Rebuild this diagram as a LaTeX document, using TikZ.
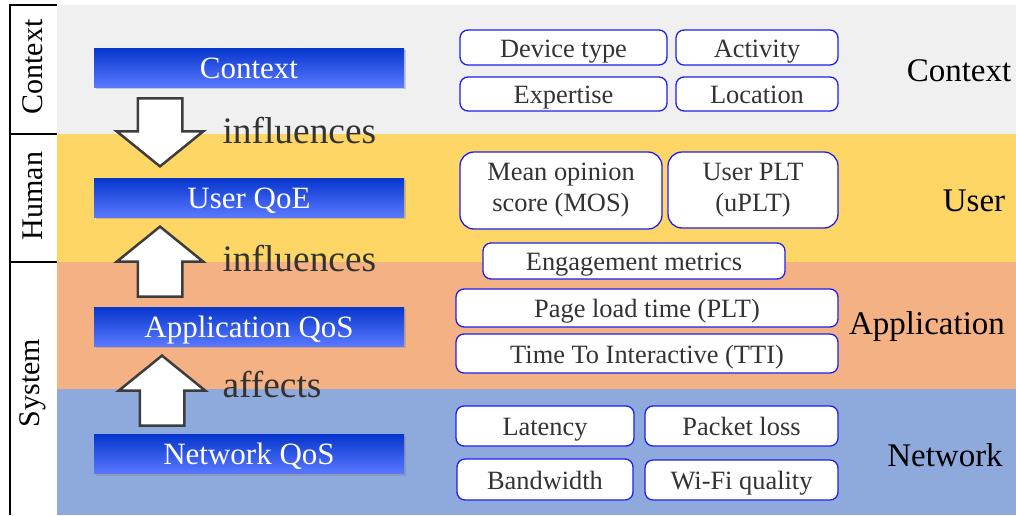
\documentclass[tikz,border=0pt]{standalone}
\usepackage{fontspec}
\setmainfont{Liberation Serif}
\usetikzlibrary{shapes.arrows,shadows}
\definecolor{ctxband}{HTML}{F0F0F0}
\definecolor{userband}{HTML}{FDD666}
\definecolor{appband}{HTML}{F4B183}
\definecolor{netband}{HTML}{8EA9DB}
\definecolor{bartop}{HTML}{0636CC}
\definecolor{barbot}{HTML}{5A78FF}
\definecolor{boxline}{HTML}{1E1EF0}
\definecolor{ink}{HTML}{333333}

\begin{document}
\begin{tikzpicture}[x=1pt,y=-1pt,
    bar/.style={minimum width=310pt,minimum height=39pt,inner sep=0pt,
        top color=bartop,bottom color=barbot,text=white,
        text height=25pt,text depth=4pt,
        font=\fontsize{31}{31}\selectfont,
        drop shadow={shadow xshift=2pt,shadow yshift=-2pt,opacity=.35}},
    metric/.style={draw=boxline,line width=1.3pt,fill=white,rounded corners=8pt,
        inner sep=0pt,text=ink,font=\fontsize{26.4}{31}\selectfont,align=center},
    oneline/.style={text height=20pt,text depth=1pt},
    fat/.style={single arrow,draw=ink!95,line width=2.5pt,fill=white,
        inner xsep=0pt,inner ysep=21pt,single arrow head extend=21pt,
        single arrow tip angle=102,anchor=tip},
    verb/.style={text=ink,font=\fontsize{37.4}{37.4}\selectfont,anchor=west},
    layer/.style={font=\fontsize{33}{33}\selectfont},
    side/.style={rotate=90,font=\fontsize{30}{30}\selectfont}]
    \useasboundingbox (0,0) rectangle (1016,515);

    % bands
    \fill[ctxband] (57,5) rectangle (1016,134);
    \fill[userband] (57,134) rectangle (1016,262);
    \fill[appband] (57,262) rectangle (1016,389);
    \fill[netband] (57,389) rectangle (1016,515);
    \draw[line width=1.5pt] (57,5) -- (10,5) -- (10,515);
    \draw[line width=1.5pt] (10,134) -- (57,134) (10,262) -- (57,262);
    \node[side] (sctx) at (33,67) {Context};
    \node[side] (shum) at (33,196) {Human};
    \node[side] (ssys) at (33,383) {System};

    % left stack
    \node[bar] (ctx) at (249,67.5) {Context};
    \node[bar] (qoe) at (249,197.5) {User QoE};
    \node[bar] (aqos) at (249,326.5) {Application QoS};
    \node[bar] (nqos) at (249,454) {Network QoS};

    \node[fat,minimum height=68pt,rotate=-90] (a1) at (160,168) {};
    \node[fat,minimum height=70pt,rotate=90] (a2) at (160,225) {};
    \node[fat,minimum height=70pt,rotate=90] (a3) at (162,354) {};
    \node[verb] (v1) at (219,131) {influences};
    \node[verb] (v2) at (219,259) {influences};
    \node[verb] (v3) at (219,385) {affects};

    % metrics
    \node[metric,oneline,minimum width=207pt,minimum height=35pt] (dev) at (563.5,47.5) {Device type};
    \node[metric,oneline,minimum width=162pt,minimum height=35pt] (act) at (757,47.5) {Activity};
    \node[metric,oneline,minimum width=207pt,minimum height=34pt] (exp) at (563.5,94) {Expertise};
    \node[metric,oneline,minimum width=162pt,minimum height=34pt] (loc) at (757,94) {Location};

    \node[metric,rounded corners=14pt,minimum width=202pt,minimum height=77pt] (mos) at (561,190.5) {Mean opinion\\score (MOS)};
    \node[metric,rounded corners=14pt,minimum width=170pt,minimum height=76pt] (uplt) at (753,190) {User PLT\\(uPLT)};
    \node[metric,oneline,minimum width=302pt,minimum height=36pt] (eng) at (634,261) {Engagement metrics};

    \node[metric,oneline,minimum width=382pt,minimum height=38pt] (plt) at (647,308) {Page load time (PLT)};
    \node[metric,oneline,minimum width=382pt,minimum height=39pt] (tti) at (647,353.5) {Time To Interactive (TTI)};

    \node[metric,oneline,minimum width=178pt,minimum height=40pt] (lat) at (545,426) {Latency};
    \node[metric,oneline,minimum width=193pt,minimum height=40pt] (pkt) at (741.5,426) {Packet loss};
    \node[metric,oneline,minimum width=176pt,minimum height=41pt] (bw) at (545,479.5) {Bandwidth};
    \node[metric,oneline,minimum width=193pt,minimum height=40pt] (wifi) at (741.5,480) {Wi-Fi quality};

    \node[layer] (lctx) at (959,71) {Context};
    \node[layer] (luser) at (974,201) {User};
    \node[layer] (lapp) at (927,327) {Application};
    \node[layer] (lnet) at (945,455) {Network};
\end{tikzpicture}
\end{document}
